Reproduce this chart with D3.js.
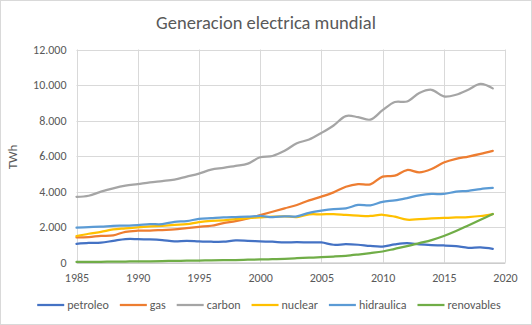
<!DOCTYPE html>
<html>
<head>
<meta charset="utf-8">
<script src="https://cdn.jsdelivr.net/npm/d3@7"></script>
<style>
  body { margin: 0; background: #fff; }
  text { font-family: Carlito, Lato, "Open Sans", sans-serif; fill: #595959; }
</style>
</head>
<body>
<div id="chart"></div>
<script>
const width = 532;
const height = 325;

const years = d3.range(1985, 2020);

const petroleo = [1050, 1100, 1120, 1220, 1320, 1320, 1300, 1260, 1190, 1220,
  1190, 1170, 1170, 1240, 1220, 1190, 1170, 1130, 1150, 1130,
  1130, 1000, 1030, 1000, 930, 900, 1020, 1090, 1020, 980,
  960, 920, 830, 850, 770];
const gas = [1410, 1430, 1500, 1530, 1730, 1790, 1800, 1830, 1860, 1940,
  2010, 2070, 2220, 2330, 2480, 2670, 2860, 3050, 3240, 3500,
  3710, 3950, 4270, 4420, 4400, 4840, 4890, 5210, 5080, 5270,
  5630, 5840, 5970, 6120, 6290];
const carbon = [3700, 3760, 3990, 4180, 4330, 4420, 4520, 4590, 4670, 4840,
  5010, 5230, 5330, 5440, 5570, 5930, 6000, 6290, 6720, 6930,
  7300, 7720, 8250, 8190, 8050, 8580, 9040, 9070, 9550, 9730,
  9360, 9450, 9730, 10060, 9810];
const nuclear = [1490, 1620, 1730, 1860, 1920, 1980, 2030, 2070, 2120, 2160,
  2280, 2350, 2370, 2450, 2500, 2540, 2580, 2600, 2560, 2710,
  2710, 2730, 2680, 2640, 2620, 2690, 2580, 2410, 2440, 2480,
  2510, 2540, 2560, 2620, 2730];
const hidraulica = [1960, 1990, 2020, 2060, 2080, 2110, 2160, 2160, 2290, 2330,
  2460, 2500, 2540, 2560, 2580, 2620, 2560, 2600, 2600, 2800,
  2920, 3010, 3050, 3240, 3220, 3420, 3500, 3630, 3780, 3860,
  3860, 3990, 4040, 4140, 4200];
const renovables = [30, 35, 40, 50, 55, 60, 70, 80, 90, 100,
  110, 120, 130, 140, 155, 170, 190, 210, 240, 270,
  300, 335, 380, 450, 530, 620, 770, 920, 1090, 1260,
  1490, 1770, 2090, 2410, 2730];

const seriesNames = ["petroleo", "gas", "carbon", "nuclear", "hidraulica", "renovables"];
const seriesValues = [petroleo, gas, carbon, nuclear, hidraulica, renovables];
const seriesColors = ["#4472C4", "#ED7D31", "#A5A5A5", "#FFC000", "#5B9BD5", "#70AD47"];

const xTicks = [1985, 1990, 1995, 2000, 2005, 2010, 2015, 2020];
const yTicks = [0, 2000, 4000, 6000, 8000, 10000, 12000];

const plot = { left: 76.5, right: 505, top: 49.5, bottom: 262.5 };

const svg = d3.select("#chart")
    .append("svg")
    .attr("width", width)
    .attr("height", height);

// outer frame
svg.append("rect")
    .attr("x", 0.5).attr("y", 0.5)
    .attr("width", width - 1).attr("height", height - 1)
    .attr("fill", "#fff")
    .attr("stroke", "#d9d9d9");

const x = d3.scaleLinear().domain([1985, 2020]).range([plot.left, plot.right]);
const y = d3.scaleLinear().domain([0, 12000]).range([plot.bottom, plot.top]);

const fmt = d => d3.format(",")(d).replace(/,/g, ".");

// gridlines
svg.append("g")
    .selectAll("line.h")
    .data(yTicks)
    .enter().append("line")
    .attr("x1", plot.left).attr("x2", plot.right)
    .attr("y1", d => Math.round(y(d)) + 0.5)
    .attr("y2", d => Math.round(y(d)) + 0.5)
    .attr("stroke", "#d9d9d9");

svg.append("g")
    .selectAll("line.v")
    .data(xTicks)
    .enter().append("line")
    .attr("x1", d => Math.round(x(d)) + 0.5)
    .attr("x2", d => Math.round(x(d)) + 0.5)
    .attr("y1", plot.top).attr("y2", plot.bottom)
    .attr("stroke", "#d9d9d9");

// axes
const yAxis = svg.append("g")
    .attr("transform", `translate(${plot.left},0)`)
    .call(d3.axisLeft(y).tickValues(yTicks).tickFormat(fmt).tickSize(0).tickPadding(10));
yAxis.select(".domain").remove();
yAxis.selectAll("text").style("font-size", "12px").attr("fill", "#595959");

const xAxis = svg.append("g")
    .attr("transform", `translate(0,${plot.bottom})`)
    .call(d3.axisBottom(x).tickValues(xTicks).tickFormat(d3.format("d")).tickSize(0).tickPadding(11));
xAxis.select(".domain").attr("stroke", "#bfbfbf");
xAxis.selectAll("text").style("font-size", "12px").attr("fill", "#595959");

// series
const line = d3.line()
    .x((d, i) => x(years[i]))
    .y(d => y(d))
    .curve(d3.curveCatmullRom.alpha(0.5));

svg.append("g")
    .selectAll("path")
    .data(seriesValues)
    .enter().append("path")
    .attr("d", d => line(d))
    .attr("fill", "none")
    .attr("stroke", (d, i) => seriesColors[i])
    .attr("stroke-width", 2.25)
    .attr("stroke-linejoin", "round")
    .attr("stroke-linecap", "round");

// title
svg.append("text")
    .attr("x", 266).attr("y", 29)
    .attr("text-anchor", "middle")
    .style("font-size", "18.5px")
    .text("Generacion electrica mundial");

// y axis title
svg.append("text")
    .attr("transform", "translate(17,157) rotate(-90)")
    .attr("text-anchor", "middle")
    .style("font-size", "13px")
    .text("TWh");

// legend
const legend = svg.append("g").attr("transform", "translate(0,305)");
const items = legend.selectAll("g")
    .data(seriesNames)
    .enter().append("g");

items.append("line")
    .attr("x1", 0).attr("x2", 27)
    .attr("stroke", (d, i) => seriesColors[i])
    .attr("stroke-width", 2.25);

items.append("text")
    .attr("x", 30).attr("dy", "0.35em")
    .style("font-size", "12px")
    .text(d => d);

let cursor = 0;
const offsets = [];
items.each(function() {
    const w = this.querySelector("text").getComputedTextLength();
    offsets.push(cursor);
    cursor += 30 + w + 11;
});
const start = 269 - (cursor - 11) / 2;
items.attr("transform", (d, i) => `translate(${start + offsets[i]},0)`);
</script>
</body>
</html>
